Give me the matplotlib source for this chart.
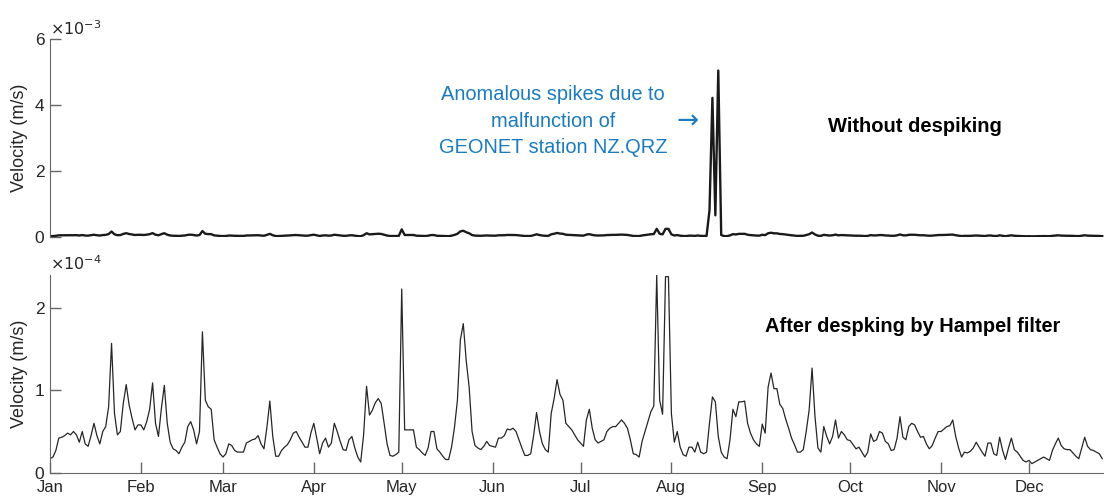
import numpy as np
import matplotlib
matplotlib.use('Agg')
import matplotlib.pyplot as plt

plt.rcParams['font.family'] = ['Liberation Sans', 'DejaVu Sans']

# day of year (0 = 1 Jan) and despiked velocity, in units of 1e-4 m/s
despiked = [
    0.17, 0.19, 0.27, 0.42, 0.43, 0.45, 0.48, 0.46, 0.50, 0.46,
    0.37, 0.50, 0.35, 0.32, 0.45, 0.60, 0.45, 0.35, 0.50, 0.56,
    0.80, 1.57, 0.72, 0.46, 0.50, 0.84, 1.07, 0.82, 0.66, 0.52,
    0.58, 0.58, 0.52, 0.62, 0.77, 1.09, 0.60, 0.44, 0.78, 1.06,
    0.60, 0.37, 0.29, 0.27, 0.23, 0.31, 0.37, 0.56, 0.62, 0.52,
    0.35, 0.50, 1.71, 0.88, 0.80, 0.77, 0.40, 0.31, 0.23, 0.19,
    0.23, 0.35, 0.33, 0.27, 0.25, 0.25, 0.25, 0.36, 0.38, 0.40,
    0.41, 0.45, 0.35, 0.29, 0.55, 0.87, 0.44, 0.20, 0.20, 0.27,
    0.31, 0.34, 0.40, 0.48, 0.50, 0.43, 0.37, 0.31, 0.31, 0.48,
    0.60, 0.42, 0.23, 0.36, 0.42, 0.31, 0.36, 0.60, 0.50, 0.38,
    0.28, 0.27, 0.40, 0.44, 0.30, 0.19, 0.13, 0.46, 1.05, 0.70,
    0.76, 0.85, 0.90, 0.84, 0.60, 0.35, 0.21, 0.20, 0.22, 0.25,
    2.23, 0.52, 0.52, 0.52, 0.52, 0.31, 0.28, 0.24, 0.21, 0.30,
    0.50, 0.50, 0.29, 0.25, 0.20, 0.16, 0.16, 0.31, 0.55, 0.88,
    1.61, 1.81, 1.36, 1.04, 0.50, 0.33, 0.30, 0.28, 0.32, 0.38,
    0.33, 0.32, 0.31, 0.42, 0.42, 0.45, 0.53, 0.52, 0.54, 0.50,
    0.40, 0.30, 0.21, 0.21, 0.23, 0.45, 0.73, 0.50, 0.35, 0.28,
    0.25, 0.72, 0.90, 1.13, 0.95, 0.88, 0.60, 0.56, 0.52, 0.46,
    0.40, 0.36, 0.32, 0.64, 0.77, 0.54, 0.40, 0.36, 0.38, 0.40,
    0.50, 0.54, 0.56, 0.56, 0.60, 0.64, 0.60, 0.54, 0.40, 0.23,
    0.22, 0.19, 0.38, 0.50, 0.62, 0.74, 0.81, 2.40, 0.88, 0.71,
    2.38, 2.38, 0.72, 0.37, 0.50, 0.31, 0.22, 0.20, 0.31, 0.31,
    0.25, 0.37, 0.25, 0.23, 0.25, 0.60, 0.92, 0.86, 0.44, 0.25,
    0.19, 0.17, 0.40, 0.77, 0.68, 0.86, 0.86, 0.87, 0.60, 0.48,
    0.40, 0.35, 0.32, 0.59, 0.48, 1.04, 1.21, 1.02, 1.02, 0.83,
    0.78, 0.65, 0.54, 0.42, 0.34, 0.25, 0.25, 0.28, 0.50, 0.76,
    1.27, 0.68, 0.30, 0.25, 0.56, 0.44, 0.35, 0.44, 0.64, 0.42,
    0.50, 0.46, 0.40, 0.39, 0.34, 0.29, 0.31, 0.25, 0.19, 0.25,
    0.47, 0.38, 0.40, 0.50, 0.48, 0.38, 0.35, 0.27, 0.28, 0.42,
    0.68, 0.43, 0.40, 0.56, 0.60, 0.58, 0.50, 0.43, 0.44, 0.35,
    0.29, 0.33, 0.42, 0.50, 0.50, 0.53, 0.56, 0.57, 0.64, 0.44,
    0.30, 0.19, 0.25, 0.24, 0.26, 0.30, 0.37, 0.31, 0.25, 0.20,
    0.36, 0.36, 0.23, 0.21, 0.43, 0.27, 0.16, 0.30, 0.42, 0.28,
    0.25, 0.20, 0.15, 0.13, 0.15, 0.11, 0.13, 0.15, 0.17, 0.19,
    0.17, 0.15, 0.27, 0.35, 0.42, 0.33, 0.29, 0.28, 0.28, 0.24,
    0.20, 0.17, 0.30, 0.43, 0.32, 0.28, 0.27, 0.25, 0.23, 0.17,
]
days = np.arange(len(despiked))

# samples of the raw record that the Hampel filter replaced (units 1e-3 m/s)
spike_days = [225, 226, 227, 228, 229]
spike_vals = [0.80, 4.22, 0.65, 5.05, 0.05]

month_days = [0, 31, 59, 90, 120, 151, 181, 212, 243, 273, 304, 334]
month_names = ['Jan', 'Feb', 'Mar', 'Apr', 'May', 'Jun',
               'Jul', 'Aug', 'Sep', 'Oct', 'Nov', 'Dec']

# raw record: same as despiked except the replaced samples
raw = np.array(despiked) / 10.0
raw[spike_days] = spike_vals

##################################################
W, H = 1104, 496
fig = plt.figure(figsize=(W / 100, H / 100), dpi=100)
x0 = 50 / W
ax1 = fig.add_axes([x0, (H - 236.7) / H, 1 - x0, 197.4 / H])
ax2 = fig.add_axes([x0, (H - 472.7) / H, 1 - x0, 197.7 / H])

spine_col = '#666666'
txt_col = '#262626'
blue = '#1b7bbd'

for ax in (ax1, ax2):
    for s in ['top', 'right']:
        ax.spines[s].set_visible(False)
    ax.spines['left'].set_color(spine_col)
    ax.spines['bottom'].set_color(spine_col)
    ax.set_xlim(0, 359.6)
    ax.tick_params(direction='in', length=8, width=1, color=spine_col,
                   labelsize=12.5, labelcolor=txt_col, pad=4)
    ax.set_ylabel('Velocity (m/s)', fontsize=13, color=txt_col, labelpad=5)
    ax.patch.set_alpha(0)

# top: raw
ax1.plot(days, raw, color='#1a1a1a', lw=1.7)
ax1.set_ylim(0, 6)
ax1.set_yticks([0, 2, 4, 6])
ax1.spines['bottom'].set_visible(False)
ax1.set_xticks([])
ax1.text(0, 6.05, r'$\times10^{-3}$', fontsize=11.5, color=txt_col,
         ha='left', va='bottom')
ax1.text(0.477, 0.586, 'Anomalous spikes due to\nmalfunction of\nGEONET station NZ.QRZ',
         transform=ax1.transAxes, ha='center', va='center', fontsize=14.4,
         color=blue, linespacing=1.5)
ax1.text(0.605, 0.585, '\u2192', transform=ax1.transAxes, ha='center',
         va='center', fontsize=19, color=blue, family='DejaVu Sans')
ax1.text(0.821, 0.56, 'Without despiking', transform=ax1.transAxes,
         ha='center', va='center', fontsize=14.5, fontweight='bold', color='black')

# bottom: despiked
ax2.plot(days, despiked, color='#262626', lw=0.9)
ax2.set_ylim(0, 2.4)
ax2.set_yticks([0, 1, 2])
ax2.set_xticks(month_days)
ax2.set_xticklabels(month_names)
ax2.tick_params(axis='x', pad=5.5, labelsize=12)
ax2.text(0, 2.42, r'$\times10^{-4}$', fontsize=11.5, color=txt_col,
         ha='left', va='bottom')
ax2.text(0.818, 0.74, 'After despking by Hampel filter', transform=ax2.transAxes,
         ha='center', va='center', fontsize=14.4, fontweight='bold', color='black')

fig.savefig('out.png', dpi=100)
